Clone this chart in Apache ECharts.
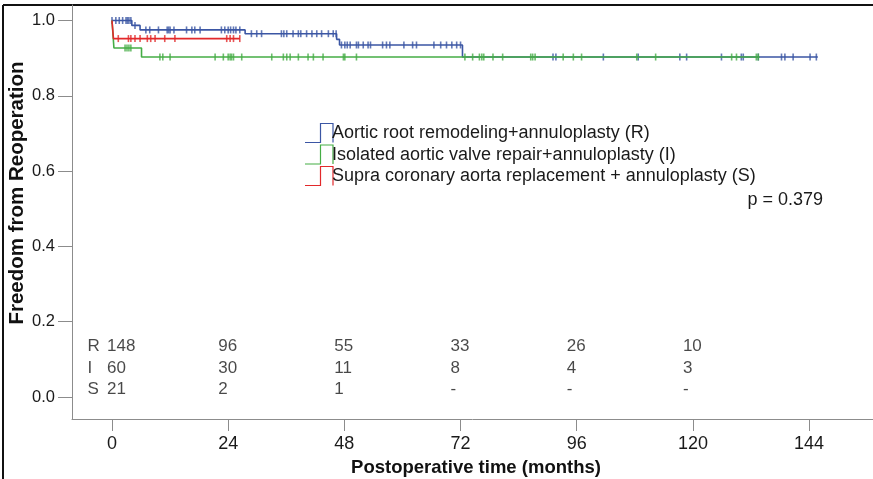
<!DOCTYPE html>
<html>
<head>
<meta charset="utf-8">
<script src="https://cdn.jsdelivr.net/npm/echarts@6/dist/echarts.min.js"></script>
<style>
  html, body { margin: 0; padding: 0; background: #fff; }
  #chart { width: 873px; height: 479px; }
</style>
</head>
<body>
<div id="chart"></div>
<script>
// Kaplan-Meier step points: time (months) and freedom from reoperation
const timesR = [0, 4.1, 5.8, 27.5, 46.4, 47.0, 72.4, 145.8];
const survR  = [1.0, 0.987, 0.975, 0.965, 0.950, 0.935, 0.903, 0.903];
const timesI = [0, 0.4, 6.1, 133.8];
const survI  = [1.0, 0.927, 0.903, 0.903];
const timesS = [0, 0.3, 26.4];
const survS  = [1.0, 0.952, 0.952];

// Censored observations (months)
const censorR = [0, 0.8, 1.5, 2.2, 2.9, 3.2, 3.5, 3.9, 4.75,
  7.0, 7.8, 9.6, 11.4, 11.7, 12.0, 12.8, 15.4, 16.5, 17.1, 18.2, 22.6, 23.3, 24.0, 24.5, 25.1, 25.6, 26.4,
  28.8, 29.9, 30.9, 35.0, 35.5, 36.1, 37.4, 38.5, 39.0, 40.2, 41.3, 42.3, 43.3, 44.7, 45.7, 46.3,
  47.4, 48.1, 48.6, 49.2, 50.5, 50.9, 51.9, 52.9, 53.4, 55.9, 56.7, 57.4, 60.3, 62.1, 62.9, 66.5, 67.9, 69.1, 70.2, 71.2, 72.0,
  91.1, 91.7, 101.5, 108.7, 117.3, 118.7, 125.9, 130.0, 130.4, 133.5, 138.3, 139.0, 140.7, 144.2, 145.5];
const censorI = [2.7, 3.1, 3.5, 3.9,
  9.9, 10.5, 12.0, 21.3, 23.0, 24.0, 24.4, 24.7, 25.1, 26.8, 33.0, 35.4, 36.1, 36.8, 38.5, 40.5, 41.6, 43.6,
  47.8, 48.1, 50.5, 72.9, 74.5, 75.9, 76.4, 76.8, 78.7, 80.7, 86.5, 86.9, 87.4, 93.2, 95.3, 97.0,
  108.4, 112.3, 128.0, 129.0, 133.1, 133.5];
const censorS = [1.3, 3.4, 3.9, 4.75, 5.8, 7.3, 8.0, 8.9, 10.9, 13.0, 23.7, 24.4, 25.1, 26.4];

// Numbers at risk
const atRiskTimes = [0, 24, 48, 72, 96, 120];
const atRiskR = [148, 96, 55, 33, 26, 10];
const atRiskI = [60, 30, 11, 8, 4, 3];
const atRiskS = [21, 2, 1, '-', '-', '-'];
const rowLabels = ['R', 'I', 'S'];

// Axis ticks
const xTicks = [0, 24, 48, 72, 96, 120, 144];
const yTicks = [0, 0.2, 0.4, 0.6, 0.8, 1.0];

const legendNames = [
  'Aortic root remodeling+annuloplasty (R)',
  'Isolated aortic valve repair+annuloplasty (I)',
  'Supra coronary aorta replacement + annuloplasty (S)'
];
const pText = 'p = 0.379';

const COLORS = { R: '#3b56a4', I: '#45ad45', S: '#e2292b' };
const FONT = 'Liberation Sans, Arial, sans-serif';

function survivalAt(times, surv, t) {
  let s = surv[0];
  for (let i = 0; i < times.length; i++) {
    if (times[i] <= t) s = surv[i];
  }
  return s;
}

function stepSeries(name, times, surv, color, z) {
  return {
    name: name, type: 'line', step: 'end', symbol: 'none', z: z,
    data: times.map((t, i) => [t, surv[i]]),
    lineStyle: { color: color, width: 1.6 },
    animation: false
  };
}

function censorSeries(times, surv, censor, color, z) {
  return {
    type: 'scatter', symbol: 'rect', symbolSize: [1.6, 7], z: z,
    data: censor.map(t => [t, survivalAt(times, surv, t)]),
    itemStyle: { color: color },
    animation: false, silent: true
  };
}

function riskRow(values, label, yVal) {
  const data = atRiskTimes.map((t, i) => ({
    value: [t, yVal],
    label: { formatter: String(values[i]), offset: [i === 0 ? -5 : -10, 0] }
  }));
  data.push({ value: [0, yVal], label: { formatter: label, offset: [-24.5, 0] } });
  return {
    type: 'scatter', symbolSize: 0, silent: true, animation: false,
    data: data,
    label: {
      show: true, position: 'inside', align: 'left', verticalAlign: 'middle',
      fontFamily: FONT, fontSize: 17, color: '#1a1a1a'
    }
  };
}

const chart = echarts.init(document.getElementById('chart'), null, { renderer: 'canvas' });

const legendRowsY = [133.5, 155, 176.5];
const legendColors = [COLORS.R, COLORS.I, COLORS.S];
const legendGraphics = [];
legendNames.forEach((name, i) => {
  const cy = legendRowsY[i];
  const top = cy - 10, bot = cy + 9;
  legendGraphics.push({
    type: 'polyline', silent: true,
    shape: { points: [[305, bot], [320.5, bot], [320.5, top], [333, top], [333, bot]] },
    style: { stroke: legendColors[i], lineWidth: 1.2, fill: null }
  });
  legendGraphics.push({
    type: 'text', x: 332, y: cy, silent: true,
    style: { text: name, fontFamily: FONT, fontSize: 18, fill: '#1a1a1a', textVerticalAlign: 'middle' }
  });
});

chart.setOption({
  backgroundColor: '#fff',
  animation: false,
  grid: { left: 72, right: 0, top: 5, bottom: 60, containLabel: false, outerBoundsMode: 'none' },
  xAxis: {
    type: 'value', min: -8.26, max: 157.2,
    name: 'Postoperative time (months)', nameLocation: 'middle', nameGap: 39,
    nameTextStyle: { fontFamily: FONT, fontSize: 18.5, fontWeight: 'bold', color: '#111', padding: [0, 0, 0, 7] },
    axisLine: { show: true, onZero: false, lineStyle: { color: '#8c8c8c', width: 1 } },
    axisTick: { show: true, length: 12, customValues: xTicks, lineStyle: { color: '#8c8c8c' } },
    axisLabel: { customValues: xTicks, margin: 16, fontFamily: 'Liberation Sans Narrow, ' + FONT, fontSize: 18, color: '#1a1a1a' },
    splitLine: { show: false }
  },
  yAxis: {
    type: 'value', min: -0.0584, max: 1.0412,
    axisLine: { show: true, onZero: false, lineStyle: { color: '#8c8c8c', width: 1 } },
    axisTick: { show: true, length: 14, customValues: yTicks, lineStyle: { color: '#8c8c8c' } },
    axisLabel: {
      customValues: yTicks, margin: 17, fontFamily: FONT, fontSize: 16.5, color: '#1a1a1a',
      formatter: v => v.toFixed(1)
    },
    splitLine: { show: false }
  },
  series: [
    stepSeries('R', timesR, survR, COLORS.R, 2),
    stepSeries('I', timesI, survI, COLORS.I, 3),
    stepSeries('S', timesS, survS, COLORS.S, 4),
    censorSeries(timesR, survR, censorR, COLORS.R, 2),
    censorSeries(timesI, survI, censorI, COLORS.I, 3),
    censorSeries(timesS, survS, censorS, COLORS.S, 4),
    riskRow(atRiskR, rowLabels[0], 0.1345),
    riskRow(atRiskI, rowLabels[1], 0.0775),
    riskRow(atRiskS, rowLabels[2], 0.0212)
  ],
  graphic: [
    // outer frame
    { type: 'line', silent: true, shape: { x1: 3, y1: 5, x2: 873, y2: 5 }, style: { stroke: '#111', lineWidth: 2 } },
    { type: 'line', silent: true, shape: { x1: 3, y1: 5, x2: 3, y2: 479 }, style: { stroke: '#111', lineWidth: 2 } },
    {
      type: 'text', silent: true, x: 17, y: 193, rotation: Math.PI / 2,
      style: { text: 'Freedom from Reoperation', fontFamily: FONT, fontSize: 20.5, fontWeight: 'bold', fill: '#111', textAlign: 'center', textVerticalAlign: 'middle' }
    },
    {
      type: 'text', silent: true, x: 823, y: 200.5,
      style: { text: pText, fontFamily: FONT, fontSize: 18, fill: '#1a1a1a', textAlign: 'right', textVerticalAlign: 'middle' }
    }
  ].concat(legendGraphics)
});
</script>
</body>
</html>
